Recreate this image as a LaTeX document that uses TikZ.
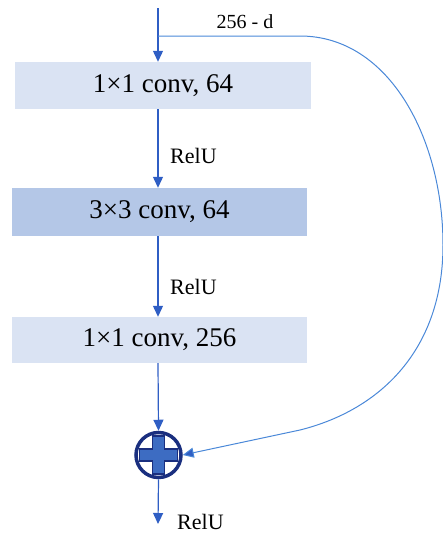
\documentclass[tikz,border=0pt]{standalone}
\usepackage{fontspec}
\setmainfont{Liberation Serif}
\usetikzlibrary{arrows.meta,calc}
\definecolor{boxlight}{HTML}{DAE3F3}
\definecolor{boxdark}{HTML}{B4C7E7}
\definecolor{arrowblue}{HTML}{2F5EC4}
\definecolor{curveblue}{HTML}{4A88D8}
\definecolor{navy}{HTML}{1A2F7F}
\definecolor{crossblue}{HTML}{3D6CC2}
\begin{document}
\begin{tikzpicture}[x=1pt,y=-1pt,
  convbox/.style={rectangle,inner sep=0pt,font=\fontsize{27}{30}\selectfont},
  flow/.style={draw=arrowblue,line width=1.2pt,-{Triangle[width=10pt,length=11pt]}},
  reluLabel/.style={anchor=west,inner sep=0pt,font=\fontsize{22}{24}\selectfont}]
\useasboundingbox (0,0) rectangle (443,536);
\node[convbox,fill=boxlight,minimum width=296pt,minimum height=47pt] (b1) at (163,85.5) {1×1 conv, 64};
\node[convbox,fill=boxdark,minimum width=295pt,minimum height=48pt] (b2) at (159.5,212) {3×3 conv, 64};
\node[convbox,fill=boxlight,minimum width=295pt,minimum height=46pt] (b3) at (159.5,340) {1×1 conv, 256};
\node[circle,draw=navy,line width=3.5pt,minimum size=45pt,inner sep=0pt] (add) at (158.5,455) {};
\fill[crossblue,draw=navy,line width=1.5pt]
  ($(add.center)+(-6,-19)$) -- ++(12,0) -- ++(0,13) -- ++(13,0) -- ++(0,12) -- ++(-13,0)
  -- ++(0,13) -- ++(-12,0) -- ++(0,-13) -- ++(-13,0) -- ++(0,-12) -- ++(13,0) -- cycle;
\coordinate (top) at (158,8);
\coordinate (split) at (158,36);
\coordinate (out) at (158,524);
\draw[flow] (top) -- (b1.north -| top);
\draw[flow] (b1.south -| top) -- (b2.north -| top);
\draw[flow] (b2.south -| top) -- (b3.north -| top);
\draw[flow] (b3.south -| top) -- (add.north);
\draw[flow] (add.south) -- (out);
\draw[draw=curveblue,line width=1pt,-{Triangle[width=10pt,length=11pt,fill=arrowblue]}]
  (split) -- (300,36) .. controls (390,36) and (443,140) .. (443,245)
  .. controls (443,350) and (380,410) .. (300,430) -- (add.east);
\node[inner sep=0pt,font=\fontsize{20}{22}\selectfont] (lbl) at (245,22) {256 - d};
\node[reluLabel] (r1) at (170,156) {RelU};
\node[reluLabel] (r2) at (170,287) {RelU};
\node[reluLabel] (r3) at (177,522) {RelU};
\end{tikzpicture}
\end{document}
